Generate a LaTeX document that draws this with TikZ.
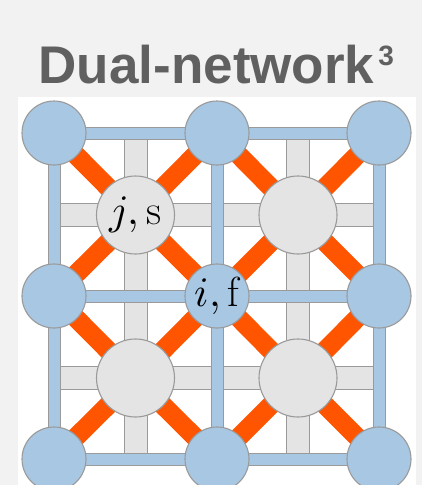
\documentclass[tikz,border=0pt]{standalone}
\usepackage{fontspec}
\usepackage{unicode-math}
\setmathfont{Latin Modern Math}
\newfontfamily\titlefont{Liberation Sans}
\usetikzlibrary{backgrounds}
\pgfdeclarelayer{bars}
\pgfsetlayers{background,bars,main}
\definecolor{netblue}{HTML}{A8C7E3}
\definecolor{netgray}{HTML}{E4E4E4}
\definecolor{netline}{HTML}{9A9A9A}
\definecolor{netorange}{HTML}{FF5500}
\definecolor{titleink}{HTML}{606060}
\definecolor{pagegray}{HTML}{F2F2F2}

\begin{document}
\begin{tikzpicture}[x=1pt,y=-1pt,
 fnode/.style={circle,draw=netline,line width=1.1pt,fill=netblue,minimum size=64pt,inner sep=0pt},
 snode/.style={circle,draw=netline,line width=1.1pt,fill=netgray,minimum size=78pt,inner sep=0pt},
 lab/.style={font=\fontsize{42}{44}\selectfont},
 fbar/.style={draw=netline,line width=1pt,double=netblue,double distance=11pt},
 sbar/.style={draw=netline,line width=1pt,double=netgray,double distance=22pt},
 hop/.style={draw=netorange,line width=19pt}]
\useasboundingbox (0,0) rectangle (422,485);
\node[anchor=base west,inner sep=0pt,text=titleink,font=\titlefont\bfseries\fontsize{53}{56}\selectfont] (title) at (38.5,83)
 {Dual-network\hspace{4pt}\raisebox{18pt}{\fontsize{28}{28}\selectfont 3}};
% field nodes
\node[fnode] (b00) at (54,133) {};
\node[fnode] (b01) at (217,133) {};
\node[fnode] (b02) at (379,133) {};
\node[fnode] (b10) at (54,296) {};
\node[fnode,lab] (b11) at (217,296) {$i,\mathrm{f}$};
\node[fnode] (b12) at (379,296) {};
\node[fnode] (b20) at (54,459) {};
\node[fnode] (b21) at (217,459) {};
\node[fnode] (b22) at (379,459) {};
% solid nodes
\node[snode,lab] (g00) at (135.5,215) {$j,\mathrm{s}$};
\node[snode] (g01) at (298,215) {};
\node[snode] (g10) at (135.5,378) {};
\node[snode] (g11) at (298,378) {};
\begin{pgfonlayer}{background}
\fill[pagegray] (0,0) rectangle (422,485);
\fill[white] (18,97) rectangle (416,485);
\end{pgfonlayer}
\begin{pgfonlayer}{bars}
\draw[sbar] (b00 |- g00) -- (b02 |- g00);
\draw[sbar] (b00 |- g10) -- (b02 |- g10);
\draw[sbar] (g00 |- b00) -- (g00 |- b20);
\draw[sbar] (g01 |- b00) -- (g01 |- b20);
\draw[fbar] (b00.center) -- (b01.center) -- (b02.center);
\draw[fbar] (b10.center) -- (b11.center) -- (b12.center);
\draw[fbar] (b20.center) -- (b21.center) -- (b22.center);
\draw[fbar] (b00.center) -- (b10.center) -- (b20.center);
\draw[fbar] (b01.center) -- (b11.center) -- (b21.center);
\draw[fbar] (b02.center) -- (b12.center) -- (b22.center);
\draw[hop] (g00.center) -- (b00.center) (g00.center) -- (b01.center) (g00.center) -- (b10.center) (g00.center) -- (b11.center);
\draw[hop] (g01.center) -- (b01.center) (g01.center) -- (b02.center) (g01.center) -- (b11.center) (g01.center) -- (b12.center);
\draw[hop] (g10.center) -- (b10.center) (g10.center) -- (b11.center) (g10.center) -- (b20.center) (g10.center) -- (b21.center);
\draw[hop] (g11.center) -- (b11.center) (g11.center) -- (b12.center) (g11.center) -- (b21.center) (g11.center) -- (b22.center);
\end{pgfonlayer}
\end{tikzpicture}
\end{document}
